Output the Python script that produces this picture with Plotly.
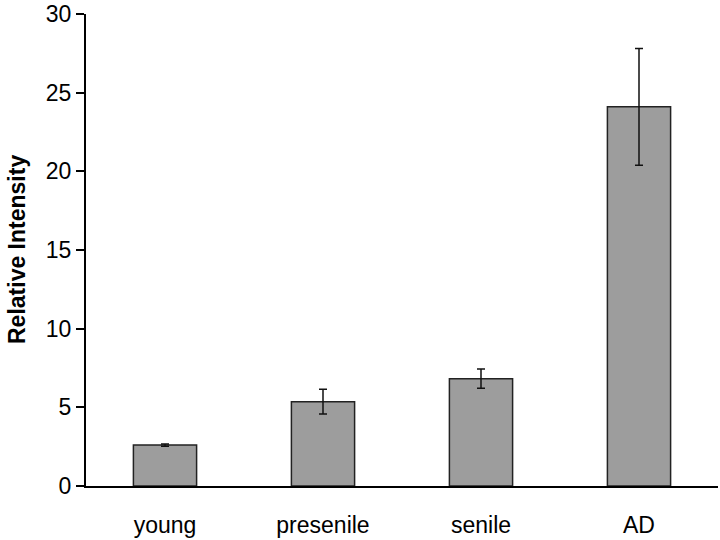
import plotly.graph_objects as go

categories = ["young", "presenile", "senile", "AD"]
values = [2.6, 5.36, 6.82, 24.1]
errors = [0.07, 0.79, 0.61, 3.71]
y_ticks = [0, 5, 10, 15, 20, 25, 30]

fig = go.Figure()
fig.add_trace(go.Bar(
    x=categories,
    y=values,
    width=0.4,
    marker=dict(color="#9d9d9d", line=dict(color="#222222", width=1.5)),
    error_y=dict(type="data", array=errors, visible=True, color="#111111",
                 thickness=1.5, width=4),
))

fig.add_annotation(
    text="<b>Relative Intensity</b>",
    xref="paper", yref="paper", x=0, y=0.5,
    xanchor="center", yanchor="middle", xshift=-69,
    textangle=-90, showarrow=False,
    font=dict(size=23, color="black"),
)

fig.update_layout(
    width=720, height=540,
    margin=dict(l=86, r=2, t=14, b=54, autoexpand=False),
    paper_bgcolor="white", plot_bgcolor="white",
    showlegend=False,
    font=dict(family="Liberation Sans, Arial, sans-serif", color="black"),
    xaxis=dict(
        range=[-0.5, 3.5],
        showline=True, linecolor="black", linewidth=2,
        ticks="", showgrid=False, zeroline=False,
        tickfont=dict(size=23),
        ticklabelstandoff=17,
    ),
    yaxis=dict(
        range=[0, 30],
        tickvals=y_ticks,
        showline=True, linecolor="black", linewidth=2,
        ticks="outside", ticklen=8, tickwidth=2, tickcolor="black",
        showgrid=False, zeroline=False,
        tickfont=dict(size=23),
        ticklabeloverflow="allow",
    ),
)

fig.write_html("out.html", config={"displayModeBar": False})
with open("out.html", "r", encoding="utf-8") as f:
    html = f.read()
html = html.replace("<body>", '<body style="margin:0;padding:0;">', 1)
with open("out.html", "w", encoding="utf-8") as f:
    f.write(html)
